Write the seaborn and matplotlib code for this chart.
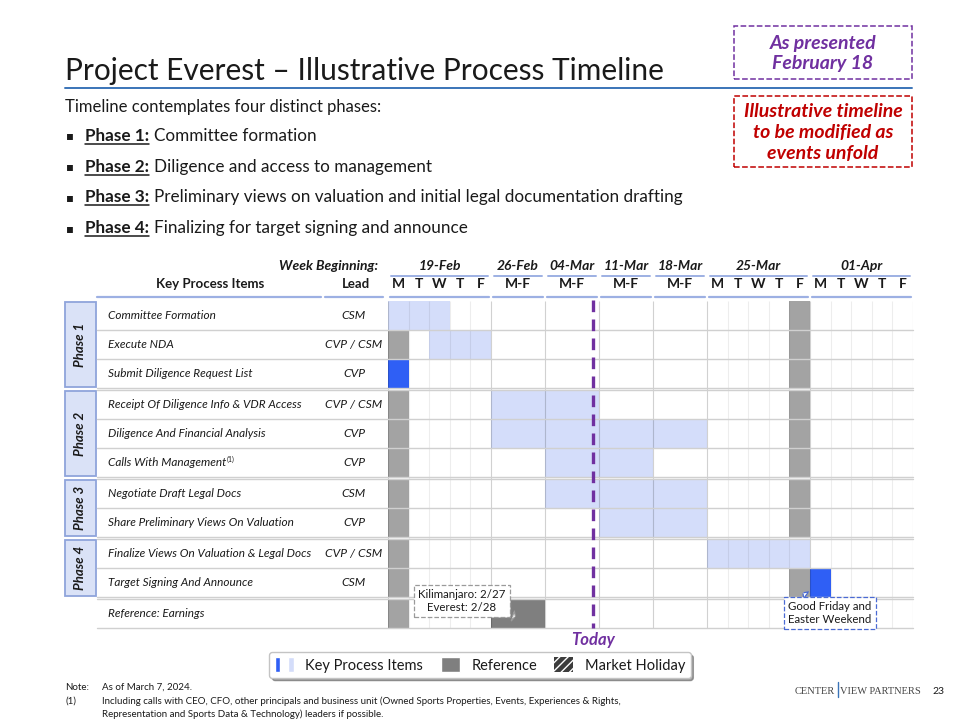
import numpy as np
import matplotlib
matplotlib.use("Agg")
import matplotlib.pyplot as plt
import seaborn as sns
from matplotlib.patches import Patch, Rectangle
from matplotlib.legend_handler import HandlerTuple

# ---- chart data ----
weeks = ["19-Feb", "26-Feb", "04-Mar", "11-Mar", "18-Mar", "25-Mar", "01-Apr"]
week_days = [["M", "T", "W", "T", "F"], ["M-F"], ["M-F"], ["M-F"], ["M-F"],
             ["M", "T", "W", "T", "F"], ["M", "T", "W", "T", "F"]]
items = ["Committee Formation", "Execute NDA", "Submit Diligence Request List",
         "Receipt Of Diligence Info & VDR Access", "Diligence And Financial Analysis",
         "Calls With Management", "Negotiate Draft Legal Docs",
         "Share Preliminary Views On Valuation", "Finalize Views On Valuation & Legal Docs",
         "Target Signing And Announce", "Reference: Earnings"]
leads = ["CSM", "CVP / CSM", "CVP", "CVP / CSM", "CVP", "CVP", "CSM", "CVP", "CVP / CSM", "CSM", ""]
item_phase = [1, 1, 1, 2, 2, 2, 3, 3, 4, 4, 0]
footnoted = ["Calls With Management"]
# one char per column: l = key item, b = key item (milestone), h = market holiday, r = reference
cells = ["lll.." "...." "....h" ".....",
         "h.lll" "...." "....h" ".....",
         "b...." "...." "....h" ".....",
         "h...." "ll.." "....h" ".....",
         "h...." "llll" "....h" ".....",
         "h...." ".ll." "....h" ".....",
         "h...." ".lll" "....h" ".....",
         "h...." "..ll" "....h" ".....",
         "h...." "...." "lllll" ".....",
         "h...." "...." "....h" "b....",
         "h...." "r..." "....h" "....."]
today_week, today_frac = "04-Mar", 0.88
earnings_note = "Kilimanjaro: 2/27\nEverest: 2/28"
holiday_note = "Good Friday and\nEaster Weekend"

phase_intro = "Timeline contemplates four distinct phases:"
phase_heads = ["Phase 1:", "Phase 2:", "Phase 3:", "Phase 4:"]
phase_desc = ["Committee formation", "Diligence and access to management",
              "Preliminary views on valuation and initial legal documentation drafting",
              "Finalizing for target signing and announce"]

# ---- style ----
sns.set_theme(style="white")
plt.rcParams["font.family"] = ["Lato", "DejaVu Sans"]
plt.rcParams["text.color"] = "#1a1a1a"

colors = {"l": "#d4ddfa", "b": "#2f5ff5", "h": "#a3a3a3", "r": "#7f7f7f"}
purple, red, hdr_blue = "#7030a0", "#c00000", "#9db0e3"

W, H = 960, 720
def fx(x): return x / W
def fy(y): return 1 - y / H

fig = plt.figure(figsize=(9.6, 7.2), dpi=100)

# ---- column / row geometry ----
col_labels, col_w, col_week = [], [], []
for wk, days in zip(weeks, week_days):
    for d in days:
        col_labels.append(d)
        col_w.append(1.0 if len(d) == 1 else 2.62)
        col_week.append(wk)
col_w = np.array(col_w)
col_left = np.concatenate([[0], np.cumsum(col_w)[:-1]])
x_total = col_w.sum()

gap = 0.07
row_top, y = [], 0.0
for i, ph in enumerate(item_phase):
    if i > 0 and ph != item_phase[i - 1]:
        y += gap
    row_top.append(y)
    y += 1
y_total = y

GL, GR, GT, GB = 388, 913, 301, 628
ax = fig.add_axes([fx(GL), fy(GB), (GR - GL) / W, (GB - GT) / H])
ax.set_xlim(0, x_total)
ax.set_ylim(y_total, 0)
ax.axis("off")
def ax_x(px): return (px - GL) / (GR - GL)
def ax_y(py): return (GB - py) / (GB - GT)
ytr = ax.get_yaxis_transform()
xtr = ax.get_xaxis_transform()

# ---- cells ----
for top, row in zip(row_top, cells):
    for code, c in colors.items():
        spans = [(col_left[j], col_w[j]) for j, ch in enumerate(row) if ch == code]
        if spans:
            ax.broken_barh(spans, (top, 1), facecolors=c, edgecolor="none", zorder=1)

# vertical grid
week_starts = {col_left[col_week.index(wk)] for wk in weeks} | {x_total}
for e in np.append(col_left, x_total):
    strong = e in week_starts
    ax.vlines(e, 0, y_total, colors="k", alpha=0.2 if strong else 0.08, lw=0.8, zorder=2)

# horizontal row lines
for i, top in enumerate(row_top):
    ys = [top + 1]
    if i > 0 and item_phase[i] != item_phase[i - 1]:
        ys.append(top)
    for yy in ys:
        ax.plot([ax_x(97), 1], [yy, yy], transform=ytr, color="#d0d0d0", lw=1,
                clip_on=False, zorder=3)

# phase boxes
for ph in sorted(set(p for p in item_phase if p > 0)):
    tops = [t for t, p in zip(row_top, item_phase) if p == ph]
    y0, y1 = min(tops), max(tops) + 1
    ax.add_patch(Rectangle((ax_x(65), y0 + 0.04), 31 / (GR - GL), y1 - y0 - 0.08,
                           transform=ytr, clip_on=False, fc="#dae2f7", ec="#8fa4db", lw=1.3))
    ax.text(ax_x(80.5), (y0 + y1) / 2, f"Phase {ph}", transform=ytr, rotation=90,
            ha="center", va="center", fontsize=9.5, fontweight="bold", style="italic")

# item names and leads
for top, item, lead in zip(row_top, items, leads):
    t = ax.text(ax_x(108), top + 0.5, item, transform=ytr, ha="left", va="center",
                fontsize=8.5, style="italic")
    if item in footnoted:
        ax.annotate("(1)", xy=(1, 1), xycoords=t, xytext=(0.5, 1), textcoords="offset points",
                    ha="left", va="top", fontsize=5)
    ax.text(ax_x(354), top + 0.5, lead, transform=ytr, ha="center", va="center",
            fontsize=8.7, style="italic")

# headers
ax.text(ax_x(378), ax_y(266), "Week Beginning:", transform=ax.transAxes, ha="right",
        va="center", fontsize=10, fontweight="bold", style="italic")
ax.text(ax_x(210), ax_y(284), "Key Process Items", transform=ax.transAxes, ha="center",
        va="center", fontsize=9.5, fontweight="bold")
ax.text(ax_x(356), ax_y(284), "Lead", transform=ax.transAxes, ha="center",
        va="center", fontsize=9.5, fontweight="bold")
for seg in [(97, 321), (325, 383)]:
    ax.plot([ax_x(seg[0]), ax_x(seg[1])], [ax_y(297)] * 2, transform=ax.transAxes,
            color=hdr_blue, lw=1.6, clip_on=False)
for wk in weeks:
    idx = [j for j, w in enumerate(col_week) if w == wk]
    x0, x1 = col_left[idx[0]], col_left[idx[-1]] + col_w[idx[-1]]
    ax.text((x0 + x1) / 2, ax_y(266), wk, transform=xtr, ha="center", va="center",
            fontsize=10, fontweight="bold", style="italic")
    ax.plot([x0 + 0.15, x1 - 0.15], [ax_y(276)] * 2, transform=xtr, color=hdr_blue,
            lw=1.4, clip_on=False)
    ax.plot([x0 + 0.1, x1 - 0.1], [ax_y(297)] * 2, transform=xtr, color=hdr_blue,
            lw=1.6, clip_on=False)
    for j in idx:
        ax.text(col_left[j] + col_w[j] / 2, ax_y(284), col_labels[j], transform=xtr,
                ha="center", va="center", fontsize=10, fontweight="bold")

# today line
tj = col_week.index(today_week)
x_today = col_left[tj] + today_frac * col_w[tj]
ax.plot([x_today, x_today], [-0.05, y_total], color=purple, lw=2.4,
        linestyle=(0, (3.5, 2.2)), clip_on=False, zorder=4)
ax.text(x_today, ax_y(640), "Today", transform=xtr, ha="center", va="center",
        fontsize=12, fontweight="bold", style="italic", color=purple)

# callouts
rj = cells[-1].index("r")
ax.annotate(earnings_note, xy=(col_left[rj] + 0.45 * col_w[rj], row_top[-1] + 0.6),
            xytext=(ax_x(462), ax_y(601)), textcoords="axes fraction",
            ha="center", va="center", fontsize=8.3, linespacing=1.15, zorder=6,
            bbox=dict(boxstyle="square,pad=0.35", fc="white", ec="#9a9a9a", ls="--", lw=0.9),
            arrowprops=dict(arrowstyle="wedge,tail_width=0.9,shrink_factor=0.5",
                            fc="white", ec="#9a9a9a", ls="--", lw=0.9))
hj = max(j for j, ch in enumerate(cells[-2]) if ch == "h")
ax.annotate(holiday_note, xy=(col_left[hj] + 0.55 * col_w[hj], row_top[-2] + 0.8),
            xytext=(ax_x(830), ax_y(613)), textcoords="axes fraction",
            ha="center", va="center", fontsize=8.3, linespacing=1.15, zorder=6,
            bbox=dict(boxstyle="square,pad=0.35", fc="white", ec="#4a6ad4", ls="--", lw=0.9),
            arrowprops=dict(arrowstyle="wedge,tail_width=0.7,shrink_factor=0.5",
                            fc="white", ec="#4a6ad4", ls="--", lw=0.9))

# ---- title block ----
fig.text(fx(65), fy(80), "Project Everest \u2013 Illustrative Process Timeline",
         ha="left", va="baseline", fontsize=21.5)
fig.add_artist(plt.Line2D([fx(65), fx(912)], [fy(88), fy(88)], color="#3a74b8", lw=1.4))

for (x0, y0, x1, y1), txt, c in [((734, 26, 912, 79), "As presented\nFebruary 18", purple),
                                  ((734, 96, 912, 167),
                                   "Illustrative timeline\nto be modified as\nevents unfold", red)]:
    fig.add_artist(Rectangle((fx(x0), fy(y1)), (x1 - x0) / W, (y1 - y0) / H,
                             transform=fig.transFigure, fc="white", ec=c, ls="--", lw=1.1))
    fig.text(fx((x0 + x1) / 2), fy((y0 + y1) / 2 + 1), txt, ha="center", va="center",
             fontsize=14, fontweight="bold", style="italic", color=c, linespacing=1.28)

fig.text(fx(65), fy(112), phase_intro, ha="left", va="baseline", fontsize=12)
renderer = fig.canvas.get_renderer()
for i, (head, desc) in enumerate(zip(phase_heads, phase_desc)):
    yb = 141 + i * 30.7
    fig.text(fx(70), fy(yb - 1.5), "\u25aa", ha="center", va="baseline", fontsize=8.5,
             family=["DejaVu Sans"])
    th = fig.text(fx(85), fy(yb), head, ha="left", va="baseline", fontsize=12.3,
                  fontweight="bold")
    bb = th.get_window_extent(renderer)
    fig.add_artist(plt.Line2D([bb.x0 / W, bb.x1 / W], [fy(yb + 3)] * 2, color="#1a1a1a", lw=1.1))
    fig.text((bb.x1 + 5) / W, fy(yb), desc, ha="left", va="baseline", fontsize=12.3)

# ---- legend ----
handles = [(Patch(fc=colors["b"]), Patch(fc=colors["l"])), Patch(fc=colors["r"]),
           Patch(fc="#3c3c3c", ec="white", hatch="////", lw=0)]
leg = fig.legend(handles, ["Key Process Items", "Reference", "Market Holiday"],
                 handler_map={tuple: HandlerTuple(ndivide=None, pad=0.6)},
                 loc="center", bbox_to_anchor=(fx(480), fy(665)), ncol=3, fontsize=10.5,
                 frameon=True, fancybox=True, shadow=True, handlelength=1.3,
                 handleheight=1.2, columnspacing=1.2, handletextpad=0.8, borderpad=0.35)
leg.get_frame().set_edgecolor("#c4c4c4")

# ---- footer ----
fs = 7
fig.text(fx(65), fy(690), "Note:", fontsize=fs, va="baseline")
fig.text(fx(102), fy(690), "As of March 7, 2024.", fontsize=fs, va="baseline")
fig.text(fx(65), fy(704), "(1)", fontsize=fs, va="baseline")
fig.text(fx(102), fy(704), "Including calls with CEO, CFO, other principals and business unit "
         "(Owned Sports Properties, Events, Experiences & Rights,", fontsize=fs, va="baseline")
fig.text(fx(102), fy(717), "Representation and Sports Data & Technology) leaders if possible.",
         fontsize=fs, va="baseline")
fig.text(fx(835), fy(694), "CENTER", ha="right", va="baseline", fontsize=7.5,
         family="Liberation Serif", color="#444444")
fig.add_artist(plt.Line2D([fx(837.5)] * 2, [fy(697), fy(682)], color="#3a74b8", lw=1))
fig.text(fx(840), fy(694), "VIEW PARTNERS", ha="left", va="baseline", fontsize=7.5,
         family="Liberation Serif", color="#444444")
fig.text(fx(932), fy(694), "23", ha="left", va="baseline", fontsize=7.5)

fig.savefig("out.png", dpi=100)
